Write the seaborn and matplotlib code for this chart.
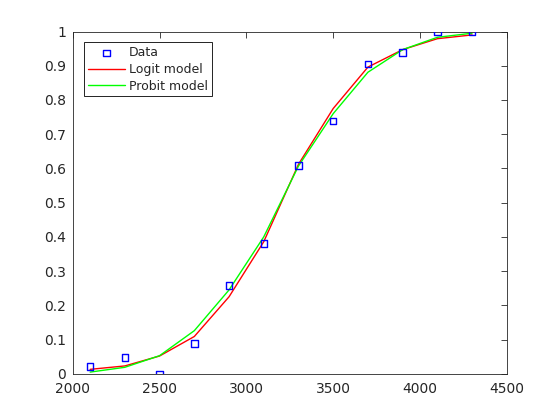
import numpy as np
import pandas as pd
import matplotlib
matplotlib.use('Agg')
import matplotlib.pyplot as plt
import seaborn as sns

# car weights and observed proportion failing
weight = [2100, 2300, 2500, 2700, 2900, 3100, 3300, 3500, 3700, 3900, 4100, 4300]
observed = [0.021, 0.048, 0.0, 0.088, 0.258, 0.381, 0.609, 0.739, 0.905, 0.938, 1.0, 1.0]

# fitted values
logit_fit = [0.013, 0.023, 0.052, 0.109, 0.225, 0.386, 0.612, 0.775, 0.896, 0.947, 0.979, 0.990]
probit_fit = [0.005, 0.019, 0.053, 0.126, 0.245, 0.400, 0.607, 0.760, 0.881, 0.947, 0.983, 0.995]

df = pd.DataFrame({'weight': weight, 'observed': observed,
                   'logit': logit_fit, 'probit': probit_fit})

sns.set_style('white')
plt.rcParams['font.family'] = ['DejaVu Sans']

fig = plt.figure(figsize=(5.6, 4.2), dpi=100)
ax = fig.add_axes([0.13, 0.11, 0.775, 0.815])

sns.scatterplot(data=df, x='weight', y='observed', marker='s', s=22,
                facecolors='none', edgecolor='#0000ff', linewidth=1.0,
                label='Data', ax=ax, zorder=3)
sns.lineplot(data=df, x='weight', y='logit', color='#ff0000', lw=1.0,
             label='Logit model', ax=ax)
sns.lineplot(data=df, x='weight', y='probit', color='#00ff00', lw=1.0,
             label='Probit model', ax=ax)

ax.set_xlim(2000, 4500)
ax.set_ylim(0, 1)
ax.set_xticks(np.arange(2000, 4501, 500))
ax.set_yticks(np.arange(0, 1.01, 0.1))
ax.set_yticklabels(['0', '0.1', '0.2', '0.3', '0.4', '0.5', '0.6', '0.7', '0.8', '0.9', '1'])
ax.set_xlabel('')
ax.set_ylabel('')

ax.tick_params(direction='in', length=4, width=0.6, colors='#262626',
               labelsize=10, top=True, right=True, labelcolor='#262626')
ax.tick_params(axis='x', pad=6)
ax.tick_params(axis='y', pad=5)
for sp in ax.spines.values():
    sp.set_color('#262626')
    sp.set_linewidth(0.6)

leg = ax.legend(loc='upper left', bbox_to_anchor=(0.026, 0.968), fontsize=9,
                fancybox=False, framealpha=1, edgecolor='black',
                borderpad=0.3, handlelength=3.0, labelspacing=0.3,
                handletextpad=0.3, borderaxespad=0)
leg.get_frame().set_linewidth(0.6)

fig.savefig('out.png', dpi=100)
